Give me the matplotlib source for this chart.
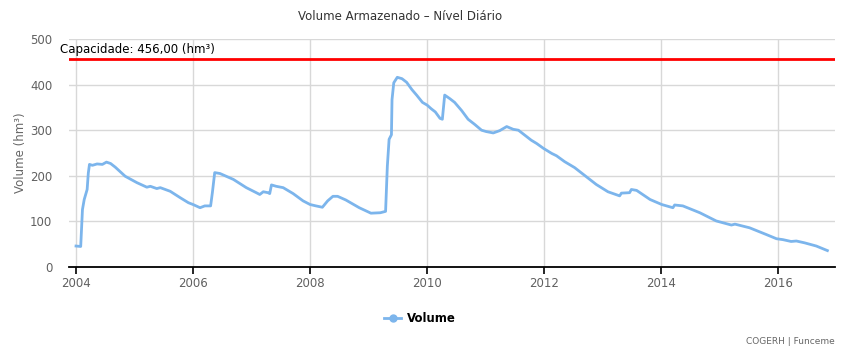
import numpy as np
import matplotlib
matplotlib.use("Agg")
import matplotlib.pyplot as plt
import matplotlib.transforms as mtransforms
from matplotlib.lines import Line2D

########################################
# DATA
########################################
years = [2004.00, 2004.08, 2004.11, 2004.14, 2004.19, 2004.21, 2004.23, 2004.28,
         2004.36, 2004.45, 2004.52, 2004.59, 2004.67, 2004.84, 2005.04, 2005.21,
         2005.27, 2005.38, 2005.44, 2005.61, 2005.78, 2005.92, 2006.00, 2006.12,
         2006.20, 2006.30, 2006.33, 2006.37, 2006.46, 2006.69, 2006.91, 2007.08,
         2007.14, 2007.20, 2007.28, 2007.31, 2007.34, 2007.42, 2007.54, 2007.71,
         2007.88, 2008.00, 2008.10, 2008.21, 2008.30, 2008.39, 2008.47, 2008.61,
         2008.84, 2009.04, 2009.20, 2009.29, 2009.32, 2009.35, 2009.39, 2009.40,
         2009.43, 2009.49, 2009.57, 2009.65, 2009.74, 2009.82, 2009.92, 2010.00,
         2010.07, 2010.14, 2010.22, 2010.26, 2010.30, 2010.39, 2010.47, 2010.59,
         2010.70, 2010.81, 2010.93, 2011.01, 2011.13, 2011.24, 2011.36, 2011.47,
         2011.56, 2011.67, 2011.78, 2011.87, 2011.99, 2012.13, 2012.21, 2012.35,
         2012.52, 2012.70, 2012.89, 2013.09, 2013.29, 2013.32, 2013.46, 2013.49,
         2013.58, 2013.81, 2014.01, 2014.20, 2014.23, 2014.37, 2014.66, 2014.94,
         2015.20, 2015.26, 2015.51, 2015.80, 2015.97, 2016.08, 2016.22, 2016.31,
         2016.45, 2016.65, 2016.84]
volume = [46, 45, 126, 148, 170, 206, 225, 223,
          226, 225, 230, 227, 219, 199, 185, 175,
          177, 172, 174, 166, 152, 141, 137, 130,
          134, 134, 163, 207, 205, 192, 174, 163,
          159, 165, 163, 161, 180, 177, 174, 161,
          145, 137, 134, 131, 145, 155, 155, 147,
          130, 118, 119, 122, 221, 280, 290, 367,
          404, 416, 413, 405, 389, 377, 361, 355,
          347, 340, 326, 324, 377, 369, 361, 343,
          324, 313, 300, 297, 294, 299, 308, 302,
          300, 289, 278, 271, 260, 249, 244, 231,
          218, 200, 181, 165, 156, 162, 163, 170,
          168, 148, 137, 130, 136, 134, 119, 101,
          92, 94, 86, 71, 62, 60, 56, 57,
          53, 46, 36]

capacity = 456.0
xticks = [2004, 2006, 2008, 2010, 2012, 2014, 2016]
yticks = [0, 100, 200, 300, 400, 500]

########################################
# FIGURE
########################################
fig = plt.figure(figsize=(8.5, 3.55), dpi=100)
ax = fig.add_axes([69 / 850, 1 - 267 / 355, (835 - 69) / 850, (267 - 39) / 355])

line_color = "#7cb5ec"
ax.plot(years, volume, color=line_color, linewidth=2, zorder=3)

ax.axhline(capacity, color="#ff0000", linewidth=2, zorder=4)
# label starts a few pixels left of the plot area
label_tr = mtransforms.offset_copy(ax.get_yaxis_transform(), fig=fig,
                                   x=-9, y=3, units="dots")
ax.text(0, capacity, "Capacidade: 456,00 (hm³)", fontsize=8.5,
        color="black", ha="left", va="bottom", zorder=5,
        transform=label_tr, clip_on=False)

ax.set_xlim(2003.88, 2016.97)
ax.set_ylim(0, 500)
ax.set_xticks(xticks)
ax.set_yticks(yticks)
ax.grid(True, color="#d8d8d8", linewidth=1)
ax.set_axisbelow(True)

for s in ["top", "right", "left"]:
    ax.spines[s].set_visible(False)
ax.spines["bottom"].set_color("black")
ax.spines["bottom"].set_linewidth(1.3)

ax.tick_params(axis="x", colors="#606060", labelsize=8.5, length=5,
               width=1.2, color="black", pad=2)
ax.tick_params(axis="y", colors="#606060", labelsize=8.5, length=0, pad=12)

ax.set_ylabel("Volume (hm³)", color="#666666", fontsize=8.5, labelpad=2)

fig.text(400 / 850, 1 - 17 / 355, "Volume Armazenado – Nível Diário",
         fontsize=8.5, color="#333333", ha="center", va="center")

########################################
# LEGEND + CREDITS
########################################
handle = Line2D([], [], color=line_color, linewidth=2, marker="o",
                markersize=5)
fig.legend([handle], ["Volume"], loc="center", bbox_to_anchor=(420 / 850, 1 - 319 / 355),
           frameon=False, prop={"weight": "bold", "size": 8.5},
           handlelength=1.4, handletextpad=0.5)

fig.text(835 / 850, 1 - 341 / 355, "COGERH | Funceme", fontsize=6.5,
         color="#666666", ha="right", va="center")

plt.savefig("out.png", dpi=100)
plt.close()
